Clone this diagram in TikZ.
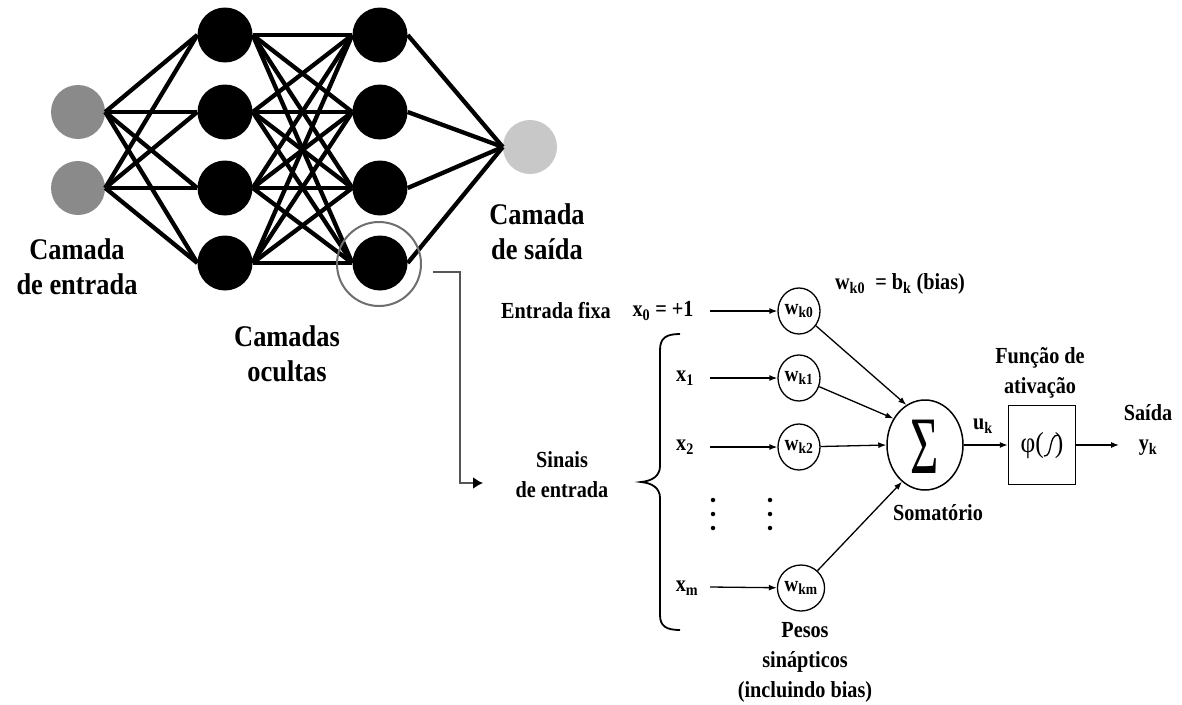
\documentclass[tikz,border=0pt]{standalone}
\usepackage{fontspec}
\usepackage{graphicx}
\setmainfont{Liberation Serif}[FakeStretch=0.88]
\usetikzlibrary{arrows.meta,shapes.geometric}
\definecolor{inputgray}{HTML}{8A8A8A}
\definecolor{outgray}{HTML}{C8C8C8}
\definecolor{ringgray}{HTML}{6E6E6E}
\definecolor{linkgray}{HTML}{555555}
\begin{document}
\begin{tikzpicture}[x=1pt,y=-1pt,
  inp/.style={circle,fill=inputgray,minimum size=54pt,inner sep=0pt},
  hid/.style={circle,fill=black,minimum size=55pt,inner sep=0pt},
  outn/.style={circle,fill=outgray,minimum size=54pt,inner sep=0pt},
  conn/.style={line width=4.3pt},
  big/.style={align=center,font=\fontsize{30}{35}\selectfont\bfseries,inner sep=0pt},
  lbl/.style={align=center,font=\fontsize{23}{30}\selectfont\bfseries,inner sep=0pt},
  wnode/.style={ellipse,draw,line width=1.3pt,minimum width=42pt,minimum height=46pt,inner sep=0pt,font=\fontsize{22}{22}\selectfont\bfseries},
  ar/.style={line width=1.3pt,-{Latex[length=8pt,width=6pt]}},
  dotc/.style={circle,fill=black,minimum size=4.5pt,inner sep=0pt}
]
\useasboundingbox[fill=white] (0,0) rectangle (1182,704);

% ---------- network ----------
\node[inp] (i1) at (78,112) {};
\node[inp] (i2) at (78,188) {};
\foreach \j/\y in {1/35,2/112,3/188,4/263}{
  \node[hid] (a\j) at (225,\y) {};
  \node[hid] (b\j) at (380,\y) {};
}
\node[outn] (o) at (530,147) {};

\foreach \i in {1,2}{\foreach \j in {1,...,4}{\draw[conn] (i\i.east) -- (a\j.west);}}
\foreach \i in {1,...,4}{\foreach \j in {1,...,4}{\draw[conn] (a\i.east) -- (b\j.west);}}
\foreach \i in {1,...,4}{\draw[conn] (b\i.east) -- (o.west);}

\node[circle,draw=ringgray,line width=2pt,minimum size=84pt,inner sep=0pt] (ring) at (379,264) {};

\node[big] (lin) at (77,267) {Camada\\de entrada};
\node[big] (lhid) at (287,354) {Camadas\\ocultas};
\node[big] (lout) at (537,232) {Camada\\de saída};

% ---------- link to neuron ----------
\coordinate (ls) at (433,272);
\coordinate (le) at (483,483);
\draw[linkgray,line width=1.8pt,-{Latex[length=10pt,width=12pt,color=black]}] (ls) -- (460,272) |- (le);

% ---------- neuron model ----------
\node[lbl] (efix) at (556,311) {Entrada fixa};
\node[lbl] (x0) at (663,311) {x\textsubscript{0} = +1};
\node[lbl] (x1) at (685,378) {x\textsubscript{1}};
\node[lbl] (x2) at (685,447) {x\textsubscript{2}};
\node[lbl] (xm) at (687,588) {x\textsubscript{m}};

\node[wnode] (w0) at (799,311) {w\textsubscript{k0}};
\node[wnode] (w1) at (799,378) {w\textsubscript{k1}};
\node[wnode] (w2) at (799,447) {w\textsubscript{k2}};
\node[wnode] (wm) at (801,588) {w\textsubscript{km}};

\node[lbl] (bias) at (900,284) {w\textsubscript{k0} \ = b\textsubscript{k} (bias)};

\coordinate (s0) at (710,311);
\coordinate (s1) at (710,378);
\coordinate (s2) at (710,447);
\coordinate (sm) at (710,587);
\draw[ar] (s0) -- (w0);
\draw[ar] (s1) -- (w1);
\draw[ar] (s2) -- (w2);
\draw[ar] (sm) -- (wm);

\foreach \yy [count=\k] in {500,514,528}{
  \node[dotc] (da\k) at (713,\yy) {};
  \node[dotc] (db\k) at (770,\yy) {};
}

\node[ellipse,draw,line width=1.5pt,minimum width=76pt,minimum height=90pt,inner sep=0pt] (sum) at (925,445) {};
\node (sig) at (925,447) {\scalebox{1.15}[1.7]{\fontsize{48}{48}\selectfont Σ}};

\draw[ar] (w0) -- (sum.115);
\draw[ar] (w1) -- (sum.140);
\draw[ar] (w2) -- (sum.west);
\draw[ar] (wm) -- (sum.238);

\node[draw,line width=1.5pt,minimum width=67pt,minimum height=79pt,inner sep=0pt] (phi) at (1042,445) {};
\node[font=\fontsize{29}{29}\selectfont,inner sep=0pt] (phit) at (1042,446) {φ(\hspace{11pt})};
\draw[line width=1.3pt] (1044,456) .. controls (1053,457) and (1048,435) .. (1058,435);

\draw[ar] (sum.east) -- (phi.west);
\coordinate (yend) at (1119,445);
\draw[ar] (phi.east) -- (yend);

\node[lbl] (uk) at (983,426) {u\textsubscript{k}};
\node[lbl] (fa) at (1040,373) {Função de\\ativação};
\node[lbl] (sai) at (1148,430) {Saída\\y\textsubscript{k}};
\node[lbl] (som) at (938,513) {Somatório};
\node[lbl] (sin) at (562,475) {Sinais\\de entrada};
\node[lbl] (pes) at (805,662) {Pesos\\sinápticos\\(incluindo bias)};

% brace
\draw[line width=1.8pt] (680,334) .. controls (666,334) and (660,338) .. (660,350) -- (660,466)
  .. controls (660,476) and (652,481) .. (641,482) .. controls (652,483) and (660,488) .. (660,498)
  -- (660,615) .. controls (660,626) and (666,630) .. (680,630);
\end{tikzpicture}
\end{document}
